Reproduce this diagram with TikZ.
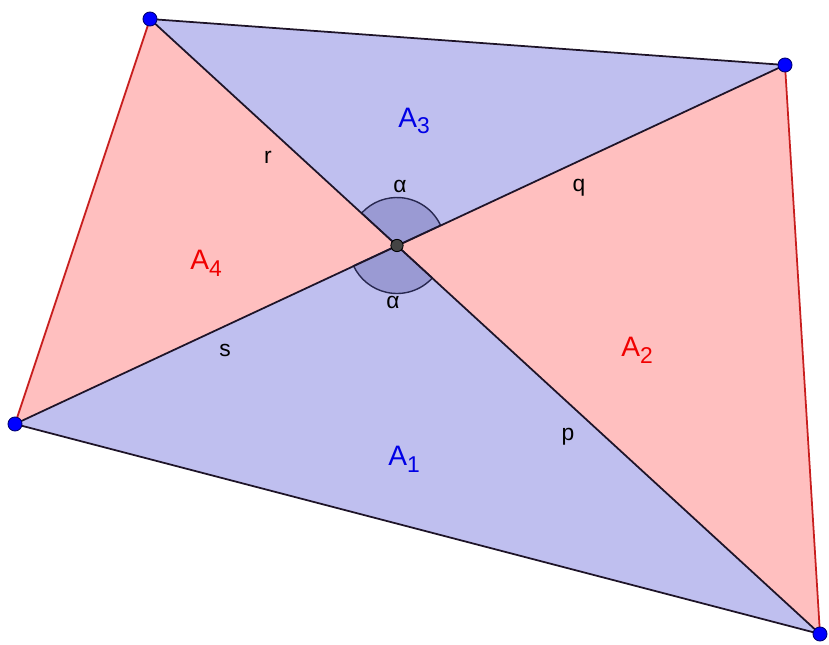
\documentclass[tikz,border=0pt]{standalone}
\usepackage{fontspec}
\setmainfont{Liberation Sans}
\newcommand{\sbx}[1]{\raisebox{-0.45ex}{\fontsize{13}{15}\selectfont #1}}
\begin{document}
\begin{tikzpicture}[x=0.02cm,y=-0.02cm,
  bluefill/.style={fill={rgb,255:red,191;green,191;blue,239}},
  pinkfill/.style={fill={rgb,255:red,255;green,191;blue,191}},
  edgeline/.style={line width=1pt,draw={rgb,255:red,30;green,20;blue,40}},
  rededge/.style={line width=1pt,draw={rgb,255:red,200;green,30;blue,30}},
  vdot/.style={circle,fill={rgb,255:red,0;green,0;blue,255},draw={rgb,255:red,0;green,0;blue,110},line width=0.5pt,inner sep=0pt,minimum size=8pt},
  cdot/.style={circle,fill={rgb,255:red,68;green,68;blue,68},draw=black,line width=0.5pt,inner sep=0pt,minimum size=7pt},
  arcfill/.style={fill={rgb,255:red,100;green,100;blue,170},fill opacity=0.4,draw={rgb,255:red,40;green,40;blue,80},line width=0.8pt},
  bluelab/.style={text={rgb,255:red,0;green,0;blue,230},font=\fontsize{16}{18}\selectfont},
  redlab/.style={text={rgb,255:red,240;green,0;blue,0},font=\fontsize{16}{18}\selectfont},
  seglab/.style={text=black,font=\fontsize{13}{15}\selectfont}]
\useasboundingbox (0,0) rectangle (829,645);
\coordinate (TL) at (150,19);
\coordinate (TR) at (785,65);
\coordinate (BR) at (820,634);
\coordinate (L) at (15,424);
\coordinate (M) at (397,245.5);
% faces
\fill[bluefill] (TL) -- (M) -- (TR) -- cycle;
\fill[bluefill] (BR) -- (M) -- (L) -- cycle;
\fill[pinkfill] (TR) -- (M) -- (BR) -- cycle;
\fill[pinkfill] (L) -- (M) -- (TL) -- cycle;
% angle arcs
\filldraw[arcfill] (M) -- ++(-24.9:48) arc[start angle=-24.9,end angle=-137.5,radius=48] -- cycle;
\filldraw[arcfill] (M) -- ++(42.5:48) arc[start angle=42.5,end angle=155,radius=48] -- cycle;
% edges
\draw[edgeline] (TL) -- (TR);
\draw[edgeline] (L) -- (BR);
\draw[rededge] (TL) -- (L);
\draw[rededge] (TR) -- (BR);
\draw[edgeline] (TL) -- (BR);
\draw[edgeline] (L) -- (TR);
% points
\node[vdot] (pTL) at (TL) {};
\node[vdot] (pTR) at (TR) {};
\node[vdot] (pBR) at (BR) {};
\node[vdot] (pL) at (L) {};
\node[cdot] (pM) at (M) {};
% labels
\node[bluelab] (a3) at (414,121) {A\sbx{3}};
\node[redlab] (a2) at (637,350) {A\sbx{2}};
\node[bluelab] (a1) at (404,459) {A\sbx{1}};
\node[redlab] (a4) at (206,263) {A\sbx{4}};
\node[seglab] (lr) at (268,157) {r};
\node[seglab] (lq) at (579,188) {q};
\node[seglab] (ls) at (225,350) {s};
\node[seglab] (lp) at (568,437) {p};
\node[seglab] (al1) at (400,186) {α};
\node[seglab] (al2) at (393,302) {α};
\end{tikzpicture}
\end{document}
